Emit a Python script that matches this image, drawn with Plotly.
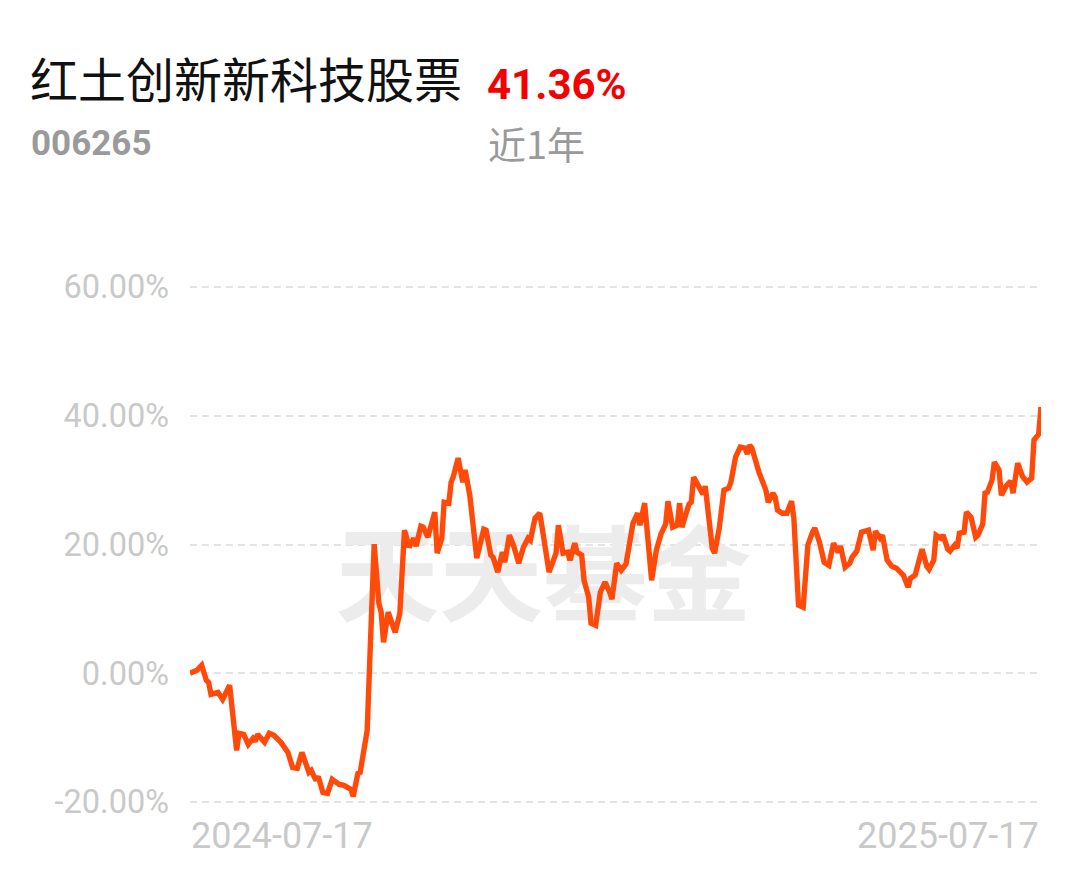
import pandas as pd
import plotly.graph_objects as go

fund_name = "红土创新新科技股票"
fund_code = "006265"
period_return = "41.36%"
period_label = "近1年"
watermark = "天天基金"

start_date = "2024-07-17"
end_date = "2025-07-17"
date_labels = ["2024-07-17", "2025-07-17"]

y_ticks = [-20, 0, 20, 40, 60]
y_tick_labels = ["-20.00%", "0.00%", "20.00%", "40.00%", "60.00%"]

# calendar-day offsets from start_date
day_offsets = [
    0, 3, 5, 7, 8, 9, 12, 14, 17, 20, 21, 23, 25, 27, 28, 29, 32, 34, 36, 38,
    39, 42, 44, 46, 48, 51, 52, 54, 55, 57, 59, 61, 64, 66, 69, 70, 72, 73, 74, 76,
    77, 79, 81, 82, 83, 85, 88, 90, 92, 94, 96, 97, 99, 100, 102, 105, 106, 108, 109, 111,
    112, 113, 115, 117, 118, 120, 123, 126, 127, 129, 130, 132, 134, 135, 137, 139, 141, 143, 145, 146,
    148, 150, 151, 154, 157, 158, 160, 162, 163, 165, 166, 168, 169, 171, 172, 174, 176, 178, 180, 181,
    183, 185, 187, 190, 192, 193, 195, 198, 200, 202, 204, 205, 207, 209, 210, 211, 214, 215, 216, 218,
    220, 221, 222, 224, 225, 227, 229, 231, 232, 234, 236, 238, 239, 240, 241, 243, 244, 247, 248, 250,
    251, 252, 254, 256, 258, 259, 261, 263, 265, 267, 268, 270, 272, 274, 276, 278, 279, 281, 283, 284,
    286, 288, 290, 291, 293, 294, 296, 297, 299, 301, 303, 305, 306, 308, 309, 311, 312, 314, 316, 317,
    319, 320, 322, 323, 325, 326, 328, 329, 330, 332, 333, 335, 337, 338, 340, 341, 342, 344, 345, 347,
    348, 350, 352, 353, 355, 357, 359, 361, 362, 364, 365,
]

# cumulative return, %
returns = [
    0.00, 0.47, 1.24, -1.09, -1.40, -3.26, -2.95, -4.04, -1.86, -11.97, -9.32, -9.48, -11.03, -10.10, -10.57, -9.48, -10.72, -9.32, -9.63, -10.41,
    -10.72, -12.28, -14.61, -14.76, -12.28, -15.38, -15.07, -16.63, -16.01, -18.49, -18.65, -16.47, -17.25, -17.40, -18.03, -19.11, -15.54, -15.38, -13.52, -8.86,
    0.93, 20.05, 10.88, 9.48, 4.82, 9.48, 6.37, 9.32, 22.22, 19.58, 20.98, 19.74, 22.84, 22.69, 21.13, 25.02, 18.65, 20.98, 26.57, 26.42,
    29.68, 30.61, 33.41, 29.68, 31.55, 27.66, 17.87, 22.38, 22.22, 18.34, 18.03, 15.70, 18.80, 17.25, 21.45, 19.58, 17.09, 19.58, 20.98, 20.67,
    24.09, 24.86, 22.69, 15.70, 18.65, 23.00, 18.65, 18.80, 17.56, 20.20, 18.80, 18.34, 14.45, 11.81, 7.77, 7.46, 12.59, 14.14, 12.59, 11.50,
    17.09, 16.01, 16.94, 23.31, 24.86, 23.00, 26.42, 14.45, 19.11, 21.60, 23.15, 26.73, 22.69, 23.00, 26.42, 22.69, 26.26, 26.57, 30.46, 29.22,
    27.82, 29.06, 25.95, 19.43, 18.65, 22.53, 28.44, 28.75, 29.68, 33.57, 35.12, 34.97, 34.03, 35.43, 34.97, 32.01, 31.24, 28.44, 26.57, 27.97,
    27.35, 25.33, 24.86, 24.86, 26.73, 24.09, 10.57, 10.26, 19.89, 21.91, 22.53, 20.36, 17.25, 16.78, 20.20, 18.80, 19.74, 16.47, 17.09, 18.03,
    18.96, 21.91, 22.22, 22.22, 19.11, 22.07, 20.98, 21.45, 17.56, 16.63, 16.32, 15.38, 15.23, 13.36, 14.76, 15.23, 16.78, 19.27, 16.63, 16.16,
    17.56, 21.45, 20.98, 21.45, 19.27, 18.96, 19.89, 19.43, 21.76, 21.91, 25.02, 24.24, 21.13, 21.45, 23.15, 27.97, 28.13, 29.99, 32.79, 31.55,
    27.66, 29.06, 29.84, 27.97, 32.63, 30.61, 29.68, 30.30, 36.21, 37.14, 41.36,
]

t0 = pd.Timestamp(start_date)
t1 = pd.Timestamp(end_date)
dates = [t0 + pd.Timedelta(days=d) for d in day_offsets]

LINE = "#FF4A0A"
GRID = "#E3E3E3"
TICK = "#C9C9C9"
CJK = "Noto Sans CJK SC, Roboto, sans-serif"
NUM = "Roboto, Noto Sans CJK SC, sans-serif"

PW = 851.0  # plot width in px
PL = 190.0  # plot left edge on the page


def px(page_x):
    return (page_x - PL) / PW


fig = go.Figure()

# watermark (drawn first so the line sits on top)
fig.add_trace(go.Scatter(
    x=[t0 + (t1 - t0) * 0.415], y=[13.2], mode="text", text=[watermark],
    textfont=dict(family=CJK, size=104, color="#ECECEC", weight="bold"),
    hoverinfo="skip", showlegend=False,
))

fig.add_trace(go.Scatter(
    x=dates, y=returns, mode="lines",
    line=dict(color=LINE, width=5.4),
    hovertemplate="%{x|%Y-%m-%d}<br>%{y:.2f}%<extra></extra>",
    showlegend=False,
))

fig.update_layout(
    width=1078, height=868,
    margin=dict(l=182, r=45, t=266, b=61),
    paper_bgcolor="white", plot_bgcolor="white",
    xaxis=dict(
        range=[t0, t1], showgrid=False, zeroline=False, showline=False,
        showticklabels=False, ticks="",
    ),
    yaxis=dict(
        range=[-22, 62], tickvals=y_ticks, ticktext=y_tick_labels,
        showgrid=True, gridcolor=GRID, gridwidth=2, griddash="7px,5px",
        zeroline=False, showline=False, ticks="",
        ticklabelstandoff=20,
        tickfont=dict(family=NUM, size=32.5, color=TICK),
    ),
    annotations=[
        dict(text=fund_name, xref="paper", yref="paper", x=px(28), y=1.0,
             xanchor="left", yanchor="middle", yshift=197, showarrow=False,
             font=dict(family=CJK, size=48, color="#111111")),
        dict(text=period_return, xref="paper", yref="paper", x=px(485), y=1.0,
             xanchor="left", yanchor="middle", yshift=190, showarrow=False,
             font=dict(family=NUM, size=42, color="#F50000", weight="bold")),
        dict(text=fund_code, xref="paper", yref="paper", x=px(29), y=1.0,
             xanchor="left", yanchor="middle", yshift=131, showarrow=False,
             font=dict(family=NUM, size=35, color="#9A9A9A", weight="bold")),
        dict(text=period_label, xref="paper", yref="paper", x=px(486), y=1.0,
             xanchor="left", yanchor="middle", yshift=132, showarrow=False,
             font=dict(family=CJK, size=38, color="#9A9A9A")),
        dict(text=date_labels[0], xref="paper", yref="paper", x=px(189), y=0,
             xanchor="left", yanchor="middle", yshift=-21, showarrow=False,
             font=dict(family=NUM, size=36, color=TICK)),
        dict(text=date_labels[1], xref="paper", yref="paper", x=px(1041), y=0,
             xanchor="right", yanchor="middle", yshift=-21, showarrow=False,
             font=dict(family=NUM, size=36, color=TICK)),
    ],
)

fig.write_html("out.html")
